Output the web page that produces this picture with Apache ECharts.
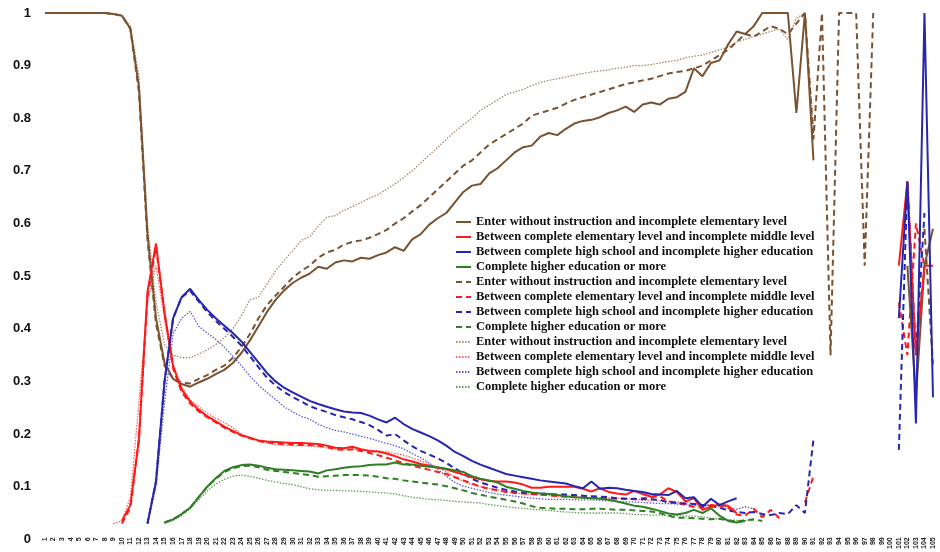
<!DOCTYPE html>
<html><head><meta charset="utf-8">
<script src="https://cdn.jsdelivr.net/npm/echarts@6/dist/echarts.min.js"></script>
<style>html,body{margin:0;padding:0;background:#fff}#c{width:940px;height:552px}</style>
</head><body><div id="c"></div>
<script>
const _ = null;
const categories = [1,2,3,4,5,6,7,8,9,10,11,12,13,14,15,16,17,18,19,20,21,22,23,24,25,26,27,28,29,30,31,32,33,34,35,36,37,38,39,40,41,42,43,44,45,46,47,48,49,50,51,52,53,54,55,56,57,58,59,60,61,62,63,64,65,66,67,68,69,70,71,72,73,74,75,76,77,78,79,80,81,82,83,84,85,86,87,88,89,90,91,92,93,94,95,96,97,98,99,100,101,102,103,104,105];
const yTicks = {min: 0, max: 1, interval: 0.1};
const names = [
  "Enter without instruction and incomplete elementary level",
  "Between complete elementary level and incomplete middle level",
  "Between complete high school and incomplete higher education",
  "Complete higher education or more"
];
// solid
const brownSolid = [1,1,1,1,1,1,1,1,0.998,0.995,
 0.97,0.86,0.58,0.42,0.335,0.305,0.295,0.29,0.298,0.305,
 0.314,0.322,0.335,0.354,0.378,0.405,0.432,0.455,0.473,0.487,
 0.497,0.505,0.518,0.514,0.526,0.53,0.528,0.535,0.533,0.54,
 0.545,0.555,0.548,0.57,0.58,0.598,0.61,0.62,0.64,0.66,
 0.672,0.675,0.695,0.705,0.72,0.735,0.745,0.748,0.765,0.772,
 0.768,0.78,0.79,0.795,0.797,0.802,0.81,0.815,0.822,0.812,
 0.826,0.83,0.826,0.837,0.84,0.85,0.895,0.88,0.905,0.91,
 0.94,0.965,0.96,0.975,1,1,1,1,0.81,1,
 0.72,_,_,_,_,_,_,_,_,_,
 _,0.52,0.27,0.52,0.59];
const redSolid = [_,_,_,_,_,_,_,_,_,0.035,
 0.065,0.19,0.47,0.562,0.43,0.33,0.285,0.262,0.246,0.234,
 0.224,0.214,0.206,0.198,0.193,0.188,0.186,0.185,0.184,0.183,
 0.183,0.182,0.181,0.178,0.174,0.173,0.176,0.171,0.168,0.167,
 0.163,0.158,0.152,0.148,0.143,0.14,0.136,0.133,0.128,0.123,
 0.118,0.114,0.111,0.11,0.11,0.108,0.104,0.098,0.098,0.1,
 0.1,0.1,0.1,0.096,0.091,0.097,0.09,0.087,0.085,0.092,
 0.086,0.081,0.085,0.097,0.09,0.072,0.078,0.056,0.062,0.066,
 0.064,0.05,_,_,_,_,_,_,_,_,
 _,_,_,_,_,_,_,_,_,_,
 0.52,0.68,0.35,0.52,0.52];
const blueSolid = [_,_,_,_,_,_,_,_,_,_,
 _,_,0.03,0.11,0.3,0.42,0.46,0.476,0.455,0.436,
 0.42,0.406,0.392,0.376,0.356,0.336,0.316,0.3,0.288,0.279,
 0.271,0.263,0.257,0.252,0.247,0.243,0.241,0.24,0.235,0.228,
 0.222,0.231,0.219,0.21,0.203,0.196,0.188,0.178,0.166,0.158,
 0.149,0.142,0.136,0.13,0.124,0.121,0.118,0.115,0.112,0.11,
 0.108,0.106,0.101,0.097,0.11,0.096,0.098,0.097,0.094,0.092,
 0.09,0.086,0.085,0.084,0.092,0.078,0.08,0.062,0.077,0.065,
 0.072,0.078,_,_,_,_,_,_,_,_,
 _,_,_,_,_,_,_,_,_,_,
 0.42,0.68,0.22,1,0.27];
const greenSolid = [_,_,_,_,_,_,_,_,_,_,
 _,_,_,_,0.032,0.038,0.048,0.06,0.08,0.1,
 0.116,0.13,0.137,0.141,0.142,0.14,0.136,0.133,0.132,0.131,
 0.13,0.129,0.125,0.131,0.133,0.136,0.138,0.139,0.141,0.142,
 0.142,0.146,0.142,0.142,0.14,0.138,0.137,0.134,0.131,0.128,
 0.12,0.115,0.112,0.108,0.1,0.096,0.092,0.089,0.087,0.086,
 0.084,0.082,0.08,0.079,0.078,0.077,0.075,0.072,0.068,0.064,
 0.062,0.058,0.054,0.049,0.047,0.05,0.056,0.05,0.059,0.045,
 0.035,0.032,0.035,_,_,_,_,_,_,_,
 _,_,_,_,_,_,_,_,_,_,
 _,_,_,_,_];
// dashed
const brownDashed = [1,1,1,1,1,1,1,1,0.998,0.995,
 0.97,0.85,0.57,0.41,0.33,0.305,0.298,0.296,0.305,0.312,
 0.322,0.33,0.345,0.365,0.39,0.42,0.445,0.463,0.48,0.497,
 0.51,0.52,0.535,0.545,0.55,0.56,0.565,0.568,0.573,0.58,
 0.588,0.6,0.61,0.623,0.635,0.65,0.665,0.68,0.695,0.71,
 0.72,0.735,0.75,0.76,0.77,0.78,0.79,0.805,0.81,0.815,
 0.82,0.828,0.835,0.84,0.845,0.85,0.855,0.86,0.865,0.868,
 0.872,0.875,0.88,0.885,0.888,0.89,0.895,0.9,0.91,0.92,
 0.93,0.945,0.96,0.955,0.965,0.975,0.97,0.96,0.98,1,
 0.76,1,0.35,1,1,1,0.52,1,_,_,
 _,_,_,0.59,0.33];
const redDashed = [_,_,_,_,_,_,_,_,_,0.03,
 0.06,0.19,0.46,0.555,0.43,0.325,0.28,0.258,0.243,0.232,
 0.222,0.212,0.204,0.197,0.192,0.187,0.184,0.182,0.181,0.18,
 0.179,0.179,0.178,0.175,0.171,0.17,0.171,0.168,0.164,0.16,
 0.155,0.15,0.145,0.14,0.136,0.132,0.128,0.124,0.118,0.112,
 0.106,0.1,0.096,0.093,0.09,0.088,0.087,0.086,0.085,0.084,
 0.082,0.081,0.08,0.08,0.079,0.078,0.078,0.077,0.077,0.076,
 0.078,0.08,0.082,0.072,0.07,0.065,0.062,0.06,0.065,0.064,
 0.06,0.047,0.045,0.058,0.042,0.056,0.04,_,_,0.07,
 0.12,_,_,_,_,_,_,_,_,_,
 0.45,0.35,0.6,0.52,_];
const blueDashed = [_,_,_,_,_,_,_,_,_,_,
 _,_,0.03,0.11,0.3,0.42,0.46,0.472,0.452,0.432,
 0.415,0.4,0.385,0.368,0.348,0.327,0.307,0.292,0.28,0.27,
 0.262,0.253,0.247,0.242,0.236,0.232,0.228,0.223,0.217,0.208,
 0.197,0.2,0.188,0.177,0.168,0.161,0.154,0.145,0.135,0.125,
 0.115,0.108,0.103,0.098,0.094,0.091,0.089,0.088,0.087,0.086,
 0.085,0.085,0.084,0.083,0.082,0.081,0.08,0.078,0.077,0.077,
 0.076,0.076,0.075,0.07,0.069,0.068,0.067,0.065,0.063,0.06,
 0.055,0.052,0.05,0.052,0.048,0.046,0.05,0.048,0.065,0.05,
 0.19,_,_,_,_,_,_,_,_,_,
 0.17,0.68,0.35,0.62,_];
const greenDashed = [_,_,_,_,_,_,_,_,_,_,
 _,_,_,_,0.032,0.038,0.048,0.06,0.08,0.1,
 0.115,0.128,0.135,0.139,0.14,0.137,0.132,0.13,0.128,0.126,
 0.124,0.122,0.119,0.12,0.121,0.122,0.122,0.122,0.121,0.119,
 0.116,0.115,0.112,0.11,0.108,0.106,0.104,0.101,0.097,0.093,
 0.088,0.085,0.081,0.078,0.075,0.072,0.068,0.063,0.06,0.059,
 0.058,0.058,0.057,0.057,0.058,0.058,0.057,0.056,0.056,0.055,
 0.054,0.053,0.05,0.045,0.041,0.041,0.04,0.039,0.038,0.039,
 0.036,0.034,0.036,0.038,0.035,_,_,_,_,_,
 _,_,_,_,_,_,_,_,_,_,
 _,_,_,_,_];
// dotted
const brownDotted = [1,1,1,1,1,1,1,1,0.998,0.995,
 0.975,0.88,0.6,0.45,0.37,0.35,0.345,0.345,0.352,0.36,
 0.37,0.383,0.4,0.425,0.455,0.46,0.485,0.51,0.53,0.548,
 0.568,0.575,0.595,0.612,0.615,0.625,0.632,0.64,0.648,0.655,
 0.665,0.675,0.688,0.7,0.715,0.73,0.745,0.76,0.775,0.788,
 0.8,0.815,0.825,0.835,0.845,0.85,0.855,0.862,0.868,0.872,
 0.875,0.878,0.882,0.885,0.888,0.89,0.892,0.895,0.897,0.9,
 0.9,0.902,0.905,0.908,0.91,0.915,0.918,0.92,0.925,0.93,
 0.935,0.945,0.95,0.955,0.96,0.965,0.97,0.95,0.99,1,
 0.78,_,_,_,_,_,_,_,_,_,
 _,_,_,_,_];
const redDotted = [_,_,_,_,_,_,_,_,0.03,0.035,
 0.08,0.26,0.45,0.52,0.42,0.325,0.29,0.265,0.252,0.24,
 0.23,0.222,0.212,0.2,0.193,0.187,0.183,0.18,0.179,0.178,
 0.178,0.177,0.176,0.174,0.172,0.172,0.171,0.17,0.169,0.168,
 0.166,0.163,0.16,0.155,0.149,0.143,0.137,0.128,0.118,0.11,
 0.104,0.1,0.097,0.094,0.091,0.088,0.087,0.085,0.084,0.083,
 0.082,0.081,0.08,0.08,0.079,0.079,0.078,0.078,0.077,0.076,
 0.075,0.074,0.073,0.072,0.071,0.07,0.068,0.066,0.065,0.064,
 0.062,_,_,_,_,_,_,_,_,_,
 _,_,_,_,_,_,_,_,_,_,
 _,_,_,_,_];
const blueDotted = [_,_,_,_,_,_,_,_,_,_,
 _,_,0.03,0.1,0.26,0.39,0.42,0.433,0.405,0.392,
 0.38,0.365,0.348,0.33,0.31,0.293,0.279,0.266,0.252,0.242,
 0.234,0.228,0.219,0.212,0.207,0.204,0.2,0.196,0.192,0.187,
 0.182,0.178,0.172,0.163,0.155,0.145,0.133,0.12,0.108,0.101,
 0.097,0.093,0.089,0.086,0.084,0.082,0.08,0.078,0.077,0.076,
 0.076,0.076,0.075,0.075,0.075,0.074,0.073,0.072,0.071,0.071,
 0.07,0.069,0.068,0.068,0.067,0.066,0.065,0.065,0.064,0.064,
 0.06,0.057,0.062,0.058,_,_,_,_,_,_,
 _,_,_,_,_,_,_,_,_,_,
 _,_,_,_,_];
const greenDotted = [_,_,_,_,_,_,_,_,_,_,
 _,_,_,_,0.03,0.036,0.045,0.058,0.075,0.092,
 0.105,0.114,0.12,0.122,0.12,0.116,0.112,0.109,0.106,0.104,
 0.1,0.096,0.094,0.093,0.093,0.092,0.092,0.091,0.09,0.089,
 0.088,0.086,0.083,0.08,0.078,0.076,0.075,0.074,0.072,0.071,
 0.07,0.069,0.066,0.064,0.062,0.06,0.059,0.057,0.056,0.055,
 0.053,0.052,0.051,0.05,0.05,0.05,0.05,0.05,0.049,0.047,
 0.047,0.046,0.046,0.045,0.045,0.044,0.044,0.043,0.04,0.038,
 0.037,0.036,0.036,0.035,_,_,_,_,_,_,
 _,_,_,_,_,_,_,_,_,_,
 _,_,_,_,_];

const colors = {brown: "#7a5230", red: "#ff1a1a", blue: "#2626b0", green: "#2f7f24"};
const dotColors = {brown: "#a8896b", red: "#ff6060", blue: "#5a5ad0", green: "#5fa055"};
const groups = [
  {data:[brownSolid, redSolid, blueSolid, greenSolid], type:"solid", width:2, suffix:""},
  {data:[brownDashed, redDashed, blueDashed, greenDashed], type:[6,4], width:2, suffix:" "},
  {data:[brownDotted, redDotted, blueDotted, greenDotted], type:[1.5,1.5], width:1.3, suffix:"  "}
];
const keys = ["brown","red","blue","green"];
const series = [];
const legendData = [];
groups.forEach((g, gi) => {
  g.data.forEach((d, k) => {
    const nm = names[k] + g.suffix;
    legendData.push(nm);
    series.push({
      name: nm, type: "line", data: d, symbol: "none", connectNulls: false,
      z: 10 - gi,
      lineStyle: {color: gi === 2 ? dotColors[keys[k]] : colors[keys[k]], width: g.width, type: g.type},
      itemStyle: {color: gi === 2 ? dotColors[keys[k]] : colors[keys[k]]},
      emphasis: {disabled: true}
    });
  });
});

const chart = echarts.init(document.getElementById("c"), null, {renderer: "canvas"});
chart.setOption({
  animation: false,
  backgroundColor: "#fff",
  grid: {left: 45, right: 7, top: 13, bottom: 7, containLabel: false},
  legend: {
    orient: "vertical", left: 450, top: 210, itemWidth: 15, itemHeight: 10, itemGap: 1,
    data: legendData, selectedMode: false,
    itemStyle: {opacity: 0},
    textStyle: {fontFamily: "Liberation Serif", fontWeight: "bold", fontSize: 12.5, color: "#111", lineHeight: 14}
  },
  xAxis: {
    type: "category", data: categories, boundaryGap: false,
    axisLine: {show: false}, axisTick: {show: false}, splitLine: {show: false},
    axisLabel: {interval: 0, rotate: 90, fontSize: 7, fontWeight: "bold", color: "#222", margin: -2, fontFamily: "Liberation Sans"}
  },
  yAxis: {
    type: "value", min: yTicks.min, max: yTicks.max, interval: yTicks.interval,
    axisLine: {show: false}, axisTick: {show: false}, splitLine: {show: false},
    axisLabel: {fontSize: 13, fontWeight: "bold", color: "#111", fontFamily: "Liberation Sans", margin: 14,
      formatter: v => String(Math.round(v * 10) / 10)}
  },
  series: series
});
</script></body></html>
